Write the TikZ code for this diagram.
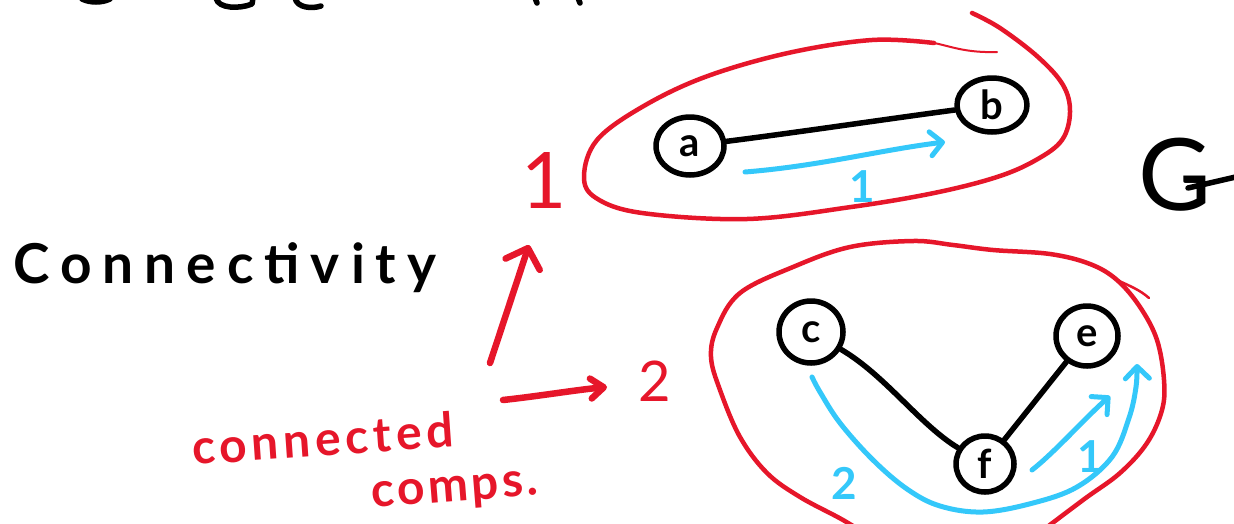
\documentclass[tikz,border=0pt]{standalone}
\usepackage{fontspec}
\setmainfont{Lato}
\newfontfamily\handA[LetterSpace=20]{Lato}
\newfontfamily\handB[LetterSpace=10]{Lato}
\newfontfamily\handC[LetterSpace=7]{Lato}
\usetikzlibrary{arrows.meta,shapes.geometric}
\definecolor{inkred}{RGB}{230,22,42}
\definecolor{inkblue}{RGB}{52,200,250}

\begin{document}
\begin{tikzpicture}[x=1pt,y=-1pt,line cap=round,line join=round,
  blackink/.style={draw=black,line width=5.5pt},
  redink/.style={draw=inkred,line width=4.5pt},
  redarrow/.style={draw=inkred,line width=6.5pt},
  blueink/.style={draw=inkblue,line width=5pt},
  vertex/.style={draw=black,line width=5.5pt,ellipse,inner sep=0pt,
    font=\bfseries\fontsize{40}{44}\selectfont},
  bluelabel/.style={text=inkblue,inner sep=0pt,font=\bfseries\fontsize{44}{48}\selectfont},
  redlabel/.style={text=inkred,inner sep=0pt},
  bluehead/.style={-{Straight Barb[length=12pt,width=24pt,round]}},
]
\useasboundingbox (0,0) rectangle (1234,523);
\clip (0,0) rectangle (1234,523);
\fill[white] (0,0) rectangle (1234,523);

% strokes of a line of writing running off the top edge
\draw[blackink] (82,-1) .. controls (90,3) and (102,3) .. (110,-1);
\draw[blackink] (216,-2) .. controls (218,9) and (240,9) .. (252,4) -- (253,-2);
\draw[blackink] (295,-2) .. controls (297,8) and (312,9) .. (321,6);
\draw[blackink] (535,-2) -- (537,3);
\draw[blackink] (578,-2) -- (580,3);

% title word and the letter on the right
\node[anchor=base west,inner sep=0pt,font=\handA\bfseries\fontsize{55}{60}\selectfont]
  (title) at (13,283) {Connectivity};
\node[anchor=base west,inner sep=0pt,font=\fontsize{100}{110}\selectfont]
  (G) at (1138,210) {G};
\draw[blackink] (1188,188) -- (1240,176);

% first component: a -- b
\node[vertex,minimum width=68pt,minimum height=58pt] (a) at (690,146) {a};
\node[vertex,minimum width=70pt,minimum height=54pt] (b) at (992,105) {b};
\draw[blackink] (a) .. controls (800,132) and (880,120) .. (b);
\coordinate (p1s) at (745,172);
\coordinate (p1e) at (945,142);
\draw[blueink,bluehead] (p1s) .. controls (820,166) and (880,150) .. (p1e);
\node[bluelabel] (l1) at (862,187) {1};

% outline of the first component
\draw[redink] plot[smooth,tension=0.6] coordinates {
  (972,13) (1000,28) (1038,57) (1063,85) (1070,112) (1062,140) (1036,160)
  (997,177) (934,193) (851,207) (747,219) (642,213) (596,198) (584,176)
  (597,140) (642,107) (705,77) (788,53) (872,40) (934,43)};
\draw[draw=inkred,line width=2pt] (934,43) .. controls (950,46) and (965,53) .. (997,52);

% second component: c -- f -- e
\node[vertex,minimum width=64pt,minimum height=62pt] (c) at (811,332) {c};
\node[vertex,minimum width=62pt,minimum height=60pt] (e) at (1087,336) {e};
\node[vertex,minimum width=58pt,minimum height=56pt] (f) at (985,464) {f};
\draw[blackink] (c) .. controls (885,375) and (920,425) .. (f);
\draw[blackink] (e) -- (f);

\coordinate (q1s) at (1032,470);
\coordinate (q1e) at (1110,396);
\draw[blueink,bluehead] (q1s) .. controls (1055,452) and (1085,418) .. (q1e);
\node[bluelabel] (l2a) at (1090,457) {1};

\draw[blueink,bluehead] plot[smooth,tension=0.6] coordinates {
  (812,377) (820,392) (840,423) (873,460) (907,489) (940,506) (983,512)
  (1033,503) (1077,487) (1112,457) (1129,418) (1136,387) (1137,364)};
\node[bluelabel] (l2b) at (844,483) {2};

% outline of the second component
\draw[redink] plot[smooth,tension=0.6] coordinates {
  (1030,540) (1083,500) (1120,473) (1147,443) (1162,410) (1164,380)
  (1157,340) (1140,307) (1117,280) (1090,264) (1050,254) (993,250)
  (953,245) (913,241) (850,247) (793,267) (740,293) (717,328) (711,357)
  (720,390) (740,437) (767,473) (800,497) (843,520) (875,540)};
\draw[draw=inkred,line width=2.5pt] (1117,280) .. controls (1130,286) and (1140,290) .. (1149,298);

% component numbers and their pointers
\node[redlabel,font=\fontsize{78}{84}\selectfont] (n1) at (544,180) {1};
\node[redlabel,font=\fontsize{56}{60}\selectfont] (n2) at (655,381) {2};
\coordinate (r1s) at (490,363);
\coordinate (r1e) at (529,245);
\coordinate (r2s) at (503,400);
\coordinate (r2e) at (607,387);
\draw[redarrow,-{Straight Barb[length=17pt,width=36pt,round]}] (r1s) -- (r1e);
\draw[redarrow,-{Straight Barb[length=13pt,width=20pt,round]}] (r2s) .. controls (540,396) and (575,390) .. (r2e);

\node[redlabel,anchor=base west,rotate=4,font=\handB\bfseries\fontsize{48}{52}\selectfont]
  (cc1) at (193,465) {connected};
\node[redlabel,anchor=base west,rotate=4.5,font=\handC\bfseries\fontsize{48}{52}\selectfont]
  (cc2) at (372,508) {comps.};
\end{tikzpicture}
\end{document}
